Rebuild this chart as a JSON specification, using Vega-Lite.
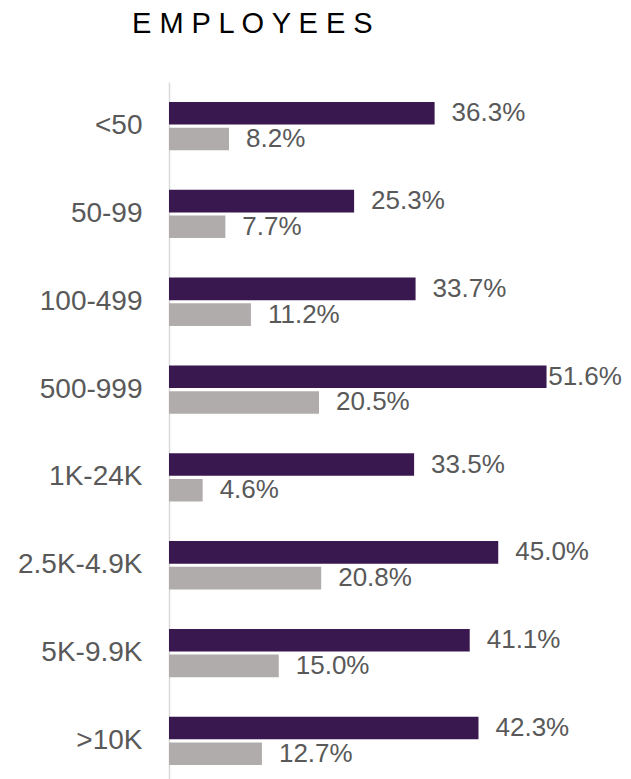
{
  "$schema": "https://vega.github.io/schema/vega-lite/v6.json",
  "autosize": "none",
  "width": 439,
  "height": 703,
  "padding": {"left": 169, "top": 82, "right": 23, "bottom": 0},
  "background": "white",
  "title": {
    "text": "E M P L O Y E E S",
    "anchor": "start",
    "frame": "group",
    "dx": -37,
    "offset": 43,
    "font": "Liberation Sans",
    "fontSize": 29,
    "fontWeight": "normal",
    "color": "#000000",
    "limit": 0
  },
  "config": {
    "view": {"stroke": null}
  },
  "data": {
    "values": [
      {"size": "<50", "series": "A", "value": 36.3},
      {"size": "<50", "series": "B", "value": 8.2},
      {"size": "50-99", "series": "A", "value": 25.3},
      {"size": "50-99", "series": "B", "value": 7.7},
      {"size": "100-499", "series": "A", "value": 33.7},
      {"size": "100-499", "series": "B", "value": 11.2},
      {"size": "500-999", "series": "A", "value": 51.6},
      {"size": "500-999", "series": "B", "value": 20.5},
      {"size": "1K-24K", "series": "A", "value": 33.5},
      {"size": "1K-24K", "series": "B", "value": 4.6},
      {"size": "2.5K-4.9K", "series": "A", "value": 45.0},
      {"size": "2.5K-4.9K", "series": "B", "value": 20.8},
      {"size": "5K-9.9K", "series": "A", "value": 41.1},
      {"size": "5K-9.9K", "series": "B", "value": 15.0},
      {"size": ">10K", "series": "A", "value": 42.3},
      {"size": ">10K", "series": "B", "value": 12.7}
    ]
  },
  "encoding": {
    "y": {
      "field": "size",
      "type": "nominal",
      "sort": null,
      "scale": {"paddingInner": 0.45, "paddingOuter": 0.227},
      "axis": {
        "title": null,
        "ticks": false,
        "domainColor": "#d9d9d9",
        "domainWidth": 1.5,
        "labelPadding": 27,
        "labelFont": "Liberation Sans",
        "labelFontSize": 28,
        "labelColor": "#595959",
        "grid": false
      }
    },
    "yOffset": {
      "field": "series",
      "type": "nominal",
      "scale": {"paddingInner": 0.12}
    }
  },
  "layer": [
    {
      "mark": {"type": "bar"},
      "encoding": {
        "x": {
          "field": "value",
          "type": "quantitative",
          "scale": {"domain": [0, 60], "nice": false},
          "axis": null
        },
        "color": {
          "field": "series",
          "type": "nominal",
          "scale": {"domain": ["A", "B"], "range": ["#39184f", "#b0acab"]},
          "legend": null
        }
      }
    },
    {
      "transform": [
        {"calculate": "min(datum.value, 49.5)", "as": "labelPos"},
        {"calculate": "format(datum.value, '.1f') + '%'", "as": "label"}
      ],
      "mark": {
        "type": "text",
        "align": "left",
        "baseline": "middle",
        "dx": 17,
        "font": "Liberation Sans",
        "fontSize": 26,
        "color": "#595959"
      },
      "encoding": {
        "x": {"field": "labelPos", "type": "quantitative", "scale": {"domain": [0, 60], "nice": false}},
        "text": {"field": "label", "type": "nominal"}
      }
    }
  ]
}
